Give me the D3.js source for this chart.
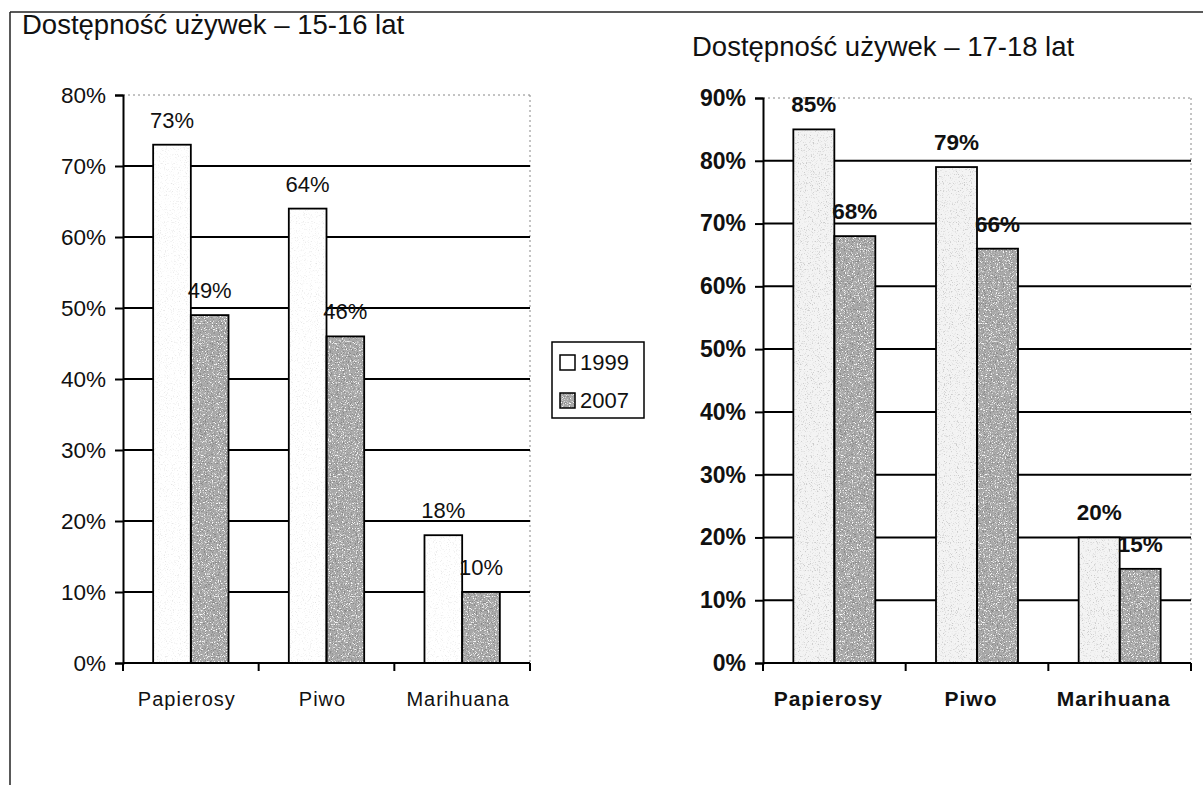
<!DOCTYPE html>
<html>
<head>
<meta charset="utf-8">
<script src="https://cdn.jsdelivr.net/npm/d3@7"></script>
<style>
  html, body { margin: 0; padding: 0; background: #fff; }
  svg { display: block; font-family: "Liberation Sans", Arial, sans-serif; }
</style>
</head>
<body>
<svg id="chart" width="1203" height="785"></svg>
<script>
// ---- data ----
const categories = ["Papierosy", "Piwo", "Marihuana"];
const years = ["1999", "2007"];
const values1516_1999 = [73, 64, 18];
const values1516_2007 = [49, 46, 10];
const values1718_1999 = [85, 79, 20];
const values1718_2007 = [68, 66, 15];
const ticks1516 = [0, 10, 20, 30, 40, 50, 60, 70, 80];
const ticks1718 = [0, 10, 20, 30, 40, 50, 60, 70, 80, 90];
const title1516 = "Dostępność używek – 15-16 lat";
const title1718 = "Dostępność używek – 17-18 lat";

const svg = d3.select("#chart");

// stipple textures (deterministic SVG noise filters)
const defs = svg.append("defs");
function stipple(id, base, dotA, densA, dotB, densB, seed) {
  const f = defs.append("filter").attr("id", id)
    .attr("filterUnits", "userSpaceOnUse").attr("x", 0).attr("y", 0).attr("width", 1203).attr("height", 785);
  f.append("feTurbulence").attr("type", "fractalNoise").attr("baseFrequency", 0.85).attr("numOctaves", 2).attr("seed", seed).attr("result", "n");
  f.append("feColorMatrix").attr("in", "n").attr("type", "matrix")
    .attr("values", `0 0 0 0 ${dotA} 0 0 0 0 ${dotA} 0 0 0 0 ${dotA} ${densA} 0 0 0 ${-densA * 0.56}`)
    .attr("result", "d1");
  f.append("feColorMatrix").attr("in", "n").attr("type", "matrix")
    .attr("values", `0 0 0 0 ${dotB} 0 0 0 0 ${dotB} 0 0 0 0 ${dotB} 0 ${densB} 0 0 ${-densB * 0.56}`)
    .attr("result", "d2");
  f.append("feFlood").attr("flood-color", base).attr("result", "b");
  f.append("feComposite").attr("in", "d2").attr("in2", "b").attr("operator", "over").attr("result", "c1");
  f.append("feComposite").attr("in", "d1").attr("in2", "c1").attr("operator", "over").attr("result", "c2");
  f.append("feComposite").attr("in", "c2").attr("in2", "SourceGraphic").attr("operator", "in");
}
stipple("darkTex", "#a9a9a9", 0.25, 7, 0.95, 6, 4);
stipple("lightTex", "#f3f3f3", 0.6, 5, 1.0, 1, 7);
stipple("whiteTex", "#ffffff", 0.75, 3, 1.0, 1, 9);

// outer frame
svg.append("line").attr("x1", 10).attr("x2", 1203).attr("y1", 12).attr("y2", 12).attr("stroke", "#222").attr("stroke-width", 1.5);
svg.append("line").attr("x1", 10).attr("x2", 10).attr("y1", 12).attr("y2", 785).attr("stroke", "#222").attr("stroke-width", 1.5);

function panel(cfg) {
  const g = svg.append("g");
  const x = d3.scaleBand().domain(categories).range([cfg.x0, cfg.x1]).padding(0);
  const xs = d3.scaleBand().domain(years).range([0, x.bandwidth()]).paddingInner(0).paddingOuter(cfg.outer);
  const y = d3.scaleLinear().domain([0, cfg.max]).range([cfg.y0, cfg.yTop]);

  // plot frame (faint dotted top/right)
  g.append("line").attr("x1", cfg.x0).attr("x2", cfg.x1).attr("y1", y(cfg.max)).attr("y2", y(cfg.max))
    .attr("stroke", "#888").attr("stroke-width", 1).attr("stroke-dasharray", "2,3");
  g.append("line").attr("x1", cfg.x1).attr("x2", cfg.x1).attr("y1", y(cfg.max)).attr("y2", cfg.y0)
    .attr("stroke", "#888").attr("stroke-width", 1).attr("stroke-dasharray", "2,3");

  // gridlines
  g.selectAll(".grid").data(cfg.ticks.filter(t => t > 0 && t < cfg.max)).join("line")
    .attr("x1", cfg.x0).attr("x2", cfg.x1).attr("y1", d => y(d)).attr("y2", d => y(d))
    .attr("stroke", "#000").attr("stroke-width", 2);

  // bars
  const rows = categories.map((c, i) => ({ c, vals: [cfg.a[i], cfg.b[i]] }));
  const grp = g.selectAll(".cat").data(rows).join("g").attr("transform", d => `translate(${x(d.c)},0)`);
  const cells = d => d.vals.map((v, j) => ({ v, yr: years[j] }));
  grp.selectAll("rect.fill").data(cells).join("rect").attr("class", "fill")
    .attr("x", d => xs(d.yr)).attr("width", xs.bandwidth())
    .attr("y", d => y(d.v)).attr("height", d => y(0) - y(d.v))
    .attr("fill", "#fff")
    .attr("filter", d => `url(#${d.yr === "1999" ? cfg.texA : cfg.texB})`);
  grp.selectAll("rect.edge").data(cells).join("rect").attr("class", "edge")
    .attr("x", d => xs(d.yr)).attr("width", xs.bandwidth())
    .attr("y", d => y(d.v)).attr("height", d => y(0) - y(d.v))
    .attr("fill", "none").attr("stroke", "#000").attr("stroke-width", 1.8);
  grp.selectAll("text").data(cells).join("text")
    .attr("x", d => xs(d.yr) + xs.bandwidth() / 2).attr("y", d => y(d.v) - 17)
    .attr("text-anchor", "middle").attr("font-size", cfg.lblSize).attr("font-weight", cfg.bold ? "bold" : "normal")
    .attr("fill", "#111").text(d => d.v + "%");

  // y axis
  const ya = d3.axisLeft(y).tickValues(cfg.ticks).tickFormat(d => d + "%").tickSize(8).tickPadding(9);
  const yg = g.append("g").attr("transform", `translate(${cfg.x0},0)`).call(ya);
  yg.select(".domain").attr("stroke", "#000").attr("stroke-width", 2);
  yg.selectAll(".tick line").attr("stroke", "#000").attr("stroke-width", 2);
  yg.selectAll(".tick text").attr("font-size", cfg.tickSize).attr("font-weight", cfg.bold ? "bold" : "normal")
    .attr("fill", "#111").attr("font-family", "Liberation Sans, Arial, sans-serif");

  // x axis
  g.append("line").attr("x1", cfg.x0).attr("x2", cfg.x1).attr("y1", cfg.y0).attr("y2", cfg.y0).attr("stroke", "#000").attr("stroke-width", 2);
  const bounds = categories.map(c => x(c)).concat([cfg.x1]);
  g.selectAll(".xt").data(bounds).join("line")
    .attr("x1", d => d).attr("x2", d => d).attr("y1", cfg.y0).attr("y2", cfg.y0 + 8)
    .attr("stroke", "#000").attr("stroke-width", 2);
  g.selectAll(".xl").data(categories).join("text")
    .attr("x", d => x(d) + x.bandwidth() / 2 + cfg.catDx).attr("y", cfg.y0 + 43)
    .attr("text-anchor", "middle").attr("font-size", cfg.catSize).attr("letter-spacing", 1)
    .attr("font-weight", cfg.bold ? "bold" : "normal").attr("fill", "#111").text(d => d);

  // title
  g.append("text").attr("x", cfg.tx).attr("y", cfg.ty).attr("font-size", 27.5).attr("fill", "#111").text(cfg.title);
}

panel({
  x0: 123, x1: 530, y0: 663, yTop: 95, max: 80, outer: 0.8,
  ticks: ticks1516, a: values1516_1999, b: values1516_2007,
  texA: "whiteTex", texB: "darkTex", title: title1516, tx: 22, ty: 34,
  lblSize: 22, tickSize: 22.5, catSize: 20, catDx: -4, bold: false
});
panel({
  x0: 763, x1: 1191, y0: 663, yTop: 98, max: 90, outer: 0.74,
  ticks: ticks1718, a: values1718_1999, b: values1718_2007,
  texA: "lightTex", texB: "darkTex", title: title1718, tx: 692, ty: 56,
  lblSize: 22.5, tickSize: 23, catSize: 21, catDx: -6, bold: true
});

// legend (left chart)
const lg = svg.append("g");
lg.append("rect").attr("x", 552).attr("y", 342).attr("width", 92).attr("height", 76)
  .attr("fill", "#fff").attr("stroke", "#000").attr("stroke-width", 1.5);
const items = lg.selectAll(".li").data(years).join("g").attr("transform", (d, i) => `translate(560,${355 + i * 38})`);
items.append("rect").attr("width", 15).attr("height", 15).attr("fill", "#fff")
  .attr("filter", d => d === "1999" ? null : "url(#darkTex)");
items.append("rect").attr("width", 15).attr("height", 15).attr("fill", "none").attr("stroke", "#000").attr("stroke-width", 1.5);
items.append("text").attr("x", 20).attr("y", 15).attr("font-size", 22).attr("fill", "#111").text(d => d);
</script>
</body>
</html>
